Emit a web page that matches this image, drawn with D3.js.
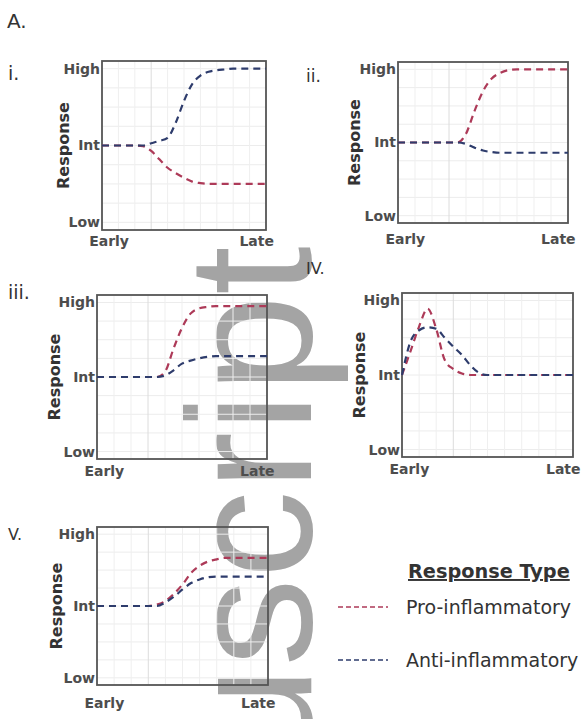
<!DOCTYPE html>
<html>
<head>
<meta charset="utf-8">
<script src="https://cdn.jsdelivr.net/npm/d3@7"></script>
<style>
  body { margin: 0; background: #fff; }
  svg { display: block; font-family: "DejaVu Sans", sans-serif; }
</style>
</head>
<body>
<div id="fig"></div>
<script>
// Time points shared by every panel (Early -> Late)
var time = [0, 0.5, 1, 1.5, 2, 2.5, 3, 3.5, 4, 4.5, 5, 5.5, 6, 6.5, 7, 7.5, 8, 8.5, 9, 9.5, 10];

// Response level (0 = Low, 1 = Int, 2 = High)
var proI   = [1, 1, 1, 1, 1, 0.99, 0.93, 0.82, 0.71, 0.64, 0.58, 0.53, 0.51, 0.5, 0.5, 0.5, 0.5, 0.5, 0.5, 0.5, 0.5];
var antiI  = [1, 1, 1, 1, 1, 1, 1.03, 1.06, 1.1, 1.3, 1.58, 1.8, 1.91, 1.96, 1.98, 1.99, 2, 2, 2, 2, 2];
var proII  = [1, 1, 1, 1, 1, 1, 1, 1, 1.12, 1.43, 1.7, 1.87, 1.95, 1.99, 2, 2, 2, 2, 2, 2, 2];
var antiII = [1, 1, 1, 1, 1, 1, 1, 1, 0.98, 0.93, 0.89, 0.87, 0.86, 0.86, 0.86, 0.86, 0.86, 0.86, 0.86, 0.86, 0.86];
var proIII = [1, 1, 1, 1, 1, 1, 1, 1, 1.07, 1.38, 1.66, 1.85, 1.92, 1.94, 1.95, 1.95, 1.95, 1.95, 1.95, 1.95, 1.95];
var antiIII= [1, 1, 1, 1, 1, 1, 1, 1, 1.02, 1.09, 1.18, 1.22, 1.25, 1.27, 1.28, 1.28, 1.28, 1.28, 1.28, 1.28, 1.28];
var proIV  = [1, 1.32, 1.65, 1.89, 1.62, 1.2, 1.08, 1.02, 1, 1, 1, 1, 1, 1, 1, 1, 1, 1, 1, 1, 1];
var antiIV = [1, 1.45, 1.6, 1.64, 1.62, 1.5, 1.38, 1.27, 1.13, 1.03, 1, 1, 1, 1, 1, 1, 1, 1, 1, 1, 1];
var proV   = [1, 1, 1, 1, 1, 1, 1, 1.02, 1.07, 1.17, 1.3, 1.46, 1.56, 1.62, 1.65, 1.67, 1.67, 1.67, 1.67, 1.67, 1.67];
var antiV  = [1, 1, 1, 1, 1, 1, 1, 1, 1.05, 1.13, 1.23, 1.32, 1.37, 1.4, 1.41, 1.41, 1.41, 1.41, 1.41, 1.41, 1.41];

// Tick labels
var yTickValues = [0, 1, 2];
var yTickLabels = ["Low", "Int", "High"];
var xTickValues = [0.4, 9.4];
var xTickLabels = ["Early", "Late"];
var seriesNames = ["Pro-inflammatory", "Anti-inflammatory"];
var panelNames  = ["i.", "ii.", "iii.", "IV.", "V."];

// Layout of each small panel: frame [left, top, right, bottom], numeral [x, y, size], title x
var panels = [
    { name: panelNames[0], pro: proI,   anti: antiI,   box: [102, 61, 266, 230], num: [8, 80, 19],   resp: 63,  xpad: 6 },
    { name: panelNames[1], pro: proII,  anti: antiII,  box: [398, 62, 568, 223], num: [306, 82, 17], resp: 354, xpad: 11 },
    { name: panelNames[2], pro: proIII, anti: antiIII, box: [97, 295, 267, 459], num: [8, 299, 19],  resp: 54,  xpad: 7 },
    { name: panelNames[3], pro: proIV,  anti: antiIV,  box: [402, 293, 573, 457], num: [306, 274, 16], resp: 359, xpad: 7 },
    { name: panelNames[4], pro: proV,   anti: antiV,   box: [97, 527, 268, 685], num: [8, 540, 16],  resp: 56,  xpad: 13 }
];

var colors = { pro: "#ad3a58", anti: "#2e3c6c" };

var W = 582, H = 719;
var svg = d3.select("#fig").append("svg")
    .attr("width", W)
    .attr("height", H);

// Manuscript watermark behind the figure
svg.append("text")
    .attr("transform", "translate(311,246) rotate(-90)")
    .attr("text-anchor", "end")
    .style("font-family", "'Liberation Sans', Arial, sans-serif")
    .style("font-size", "176px")
    .style("fill", "#a4a4a4")
    .text("Author Manuscript");

// Figure letter
svg.append("text")
    .attr("x", 7).attr("y", 28)
    .style("font-size", "20px")
    .style("fill", "#333")
    .text("A.");

panels.forEach(function(p) {
    var x = d3.scaleLinear().domain([0, 10]).range([p.box[0], p.box[2]]);
    var y = d3.scaleLinear().domain([-0.1, 2.1]).range([p.box[3], p.box[1]]);

    var g = svg.append("g");

    // Faint grid
    g.selectAll(".hgrid")
        .data(d3.range(0, 2.01, 0.25))
        .enter().append("line")
        .attr("x1", p.box[0]).attr("x2", p.box[2])
        .attr("y1", function(d) { return y(d); })
        .attr("y2", function(d) { return y(d); })
        .style("stroke", "#ececec")
        .style("stroke-width", 1);
    g.selectAll(".vgrid")
        .data(d3.range(1, 10, 1))
        .enter().append("line")
        .attr("y1", p.box[1]).attr("y2", p.box[3])
        .attr("x1", function(d) { return x(d); })
        .attr("x2", function(d) { return x(d); })
        .style("stroke", function(d) { return d == 3 ? "#dcdcdc" : "#efefef"; })
        .style("stroke-width", 1);

    // Frame
    g.append("rect")
        .attr("x", p.box[0]).attr("y", p.box[1])
        .attr("width", p.box[2] - p.box[0])
        .attr("height", p.box[3] - p.box[1])
        .style("fill", "none")
        .style("stroke", "#555")
        .style("stroke-width", 1.8);

    // Axes (labels only)
    var yAxis = g.append("g")
        .attr("transform", "translate(" + p.box[0] + ",0)")
        .call(d3.axisLeft(y).tickValues(yTickValues).tickSize(0).tickPadding(2)
            .tickFormat(function(d, i) { return yTickLabels[i]; }));
    var xAxis = g.append("g")
        .attr("transform", "translate(0," + p.box[3] + ")")
        .call(d3.axisBottom(x).tickValues(xTickValues).tickSize(0).tickPadding(p.xpad)
            .tickFormat(function(d, i) { return xTickLabels[i]; }));
    [yAxis, xAxis].forEach(function(a) {
        a.select(".domain").remove();
        a.selectAll("text")
            .style("font-family", "'DejaVu Sans', sans-serif")
            .style("font-size", "14px")
            .style("font-weight", "bold")
            .style("fill", "#4d4d4d");
    });

    // Axis title
    g.append("text")
        .attr("transform", "translate(" + p.resp + "," + ((p.box[1] + p.box[3]) / 2) + ") rotate(-90)")
        .attr("dy", "0.35em")
        .attr("text-anchor", "middle")
        .style("font-size", "16px")
        .style("font-weight", "bold")
        .style("fill", "#333")
        .text("Response");

    // Panel numeral
    g.append("text")
        .attr("x", p.num[0]).attr("y", p.num[1])
        .style("font-size", p.num[2] + "px")
        .style("fill", "#333")
        .text(p.name);

    // Response curves
    var line = d3.line()
        .x(function(d, i) { return x(time[i]); })
        .y(function(d) { return y(d); })
        .curve(d3.curveMonotoneX);

    [["pro", p.pro], ["anti", p.anti]].forEach(function(s) {
        g.append("path")
            .datum(s[1])
            .attr("d", line)
            .style("fill", "none")
            .style("stroke", colors[s[0]])
            .style("stroke-width", 2.2)
            .style("stroke-dasharray", "7,5");
    });
});

// Legend
var legend = svg.append("g");
legend.append("text")
    .attr("x", 408).attr("y", 578)
    .style("font-size", "19.3px")
    .style("font-weight", "bold")
    .style("fill", "#333")
    .style("text-decoration", "underline")
    .text("Response Type");

var legendY = d3.scalePoint().domain(seriesNames).range([607, 660]);
var legendKeys = ["pro", "anti"];
seriesNames.forEach(function(name, i) {
    legend.append("line")
        .attr("x1", 338).attr("x2", 388)
        .attr("y1", legendY(name)).attr("y2", legendY(name))
        .style("stroke", colors[legendKeys[i]])
        .style("stroke-width", 1.3)
        .style("stroke-dasharray", "5,3");
    legend.append("text")
        .attr("x", 406).attr("y", legendY(name))
        .attr("dy", "0.35em")
        .style("font-size", "19px")
        .style("fill", "#333")
        .text(name);
});
</script>
</body>
</html>
